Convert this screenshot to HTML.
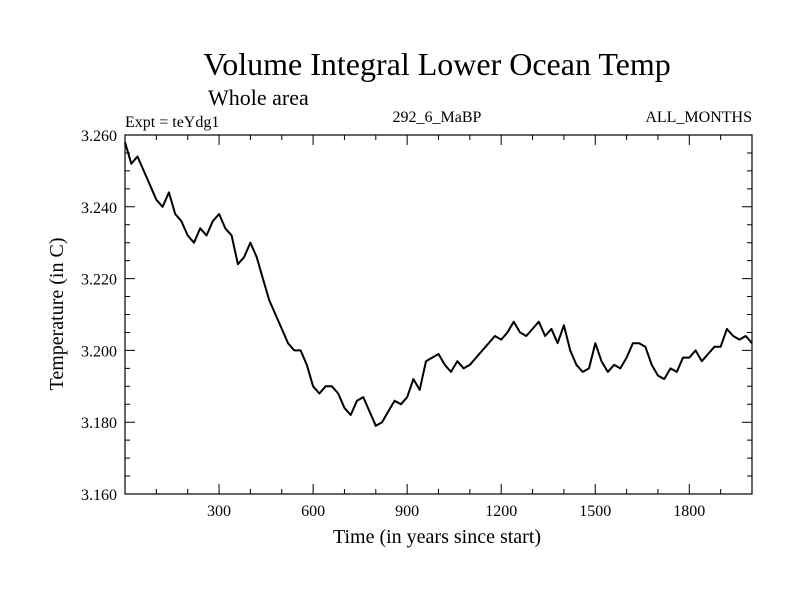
<!DOCTYPE html>
<html><head><meta charset="utf-8"><style>
body{margin:0;background:#fff}
svg{display:block;font-family:"Liberation Serif",serif}
</style></head><body>
<svg id="chart" width="800" height="600" xmlns="http://www.w3.org/2000/svg">
<text x="437" y="75" font-size="32" text-anchor="middle">Volume Integral Lower Ocean Temp</text>
<text x="208" y="105" font-size="22">Whole area</text>
<text x="125" y="127" font-size="16">Expt = teYdg1</text>
<text x="437" y="122" font-size="16" text-anchor="middle">292_6_MaBP</text>
<text x="752" y="122" font-size="16" text-anchor="end">ALL_MONTHS</text>
<text x="437" y="543" font-size="20" text-anchor="middle">Time (in years since start)</text>
<text transform="translate(63,314) rotate(-90)" font-size="20" text-anchor="middle">Temperature (in C)</text>
<g id="axes"></g>
<g id="series"></g>
</svg>
<script>
const years=[0,20,40,60,80,100,120,140,160,180,200,220,240,260,280,300,320,340,360,380,400,420,440,460,480,500,520,540,560,580,600,620,640,660,680,700,720,740,760,780,800,820,840,860,880,900,920,940,960,980,1000,1020,1040,1060,1080,1100,1120,1140,1160,1180,1200,1220,1240,1260,1280,1300,1320,1340,1360,1380,1400,1420,1440,1460,1480,1500,1520,1540,1560,1580,1600,1620,1640,1660,1680,1700,1720,1740,1760,1780,1800,1820,1840,1860,1880,1900,1920,1940,1960,1980,2000];
const temps=[3.258,3.252,3.254,3.250,3.246,3.242,3.240,3.244,3.238,3.236,3.232,3.230,3.234,3.232,3.236,3.238,3.234,3.232,3.224,3.226,3.230,3.226,3.220,3.214,3.210,3.206,3.202,3.200,3.200,3.196,3.190,3.188,3.190,3.190,3.188,3.184,3.182,3.186,3.187,3.183,3.179,3.180,3.183,3.186,3.185,3.187,3.192,3.189,3.197,3.198,3.199,3.196,3.194,3.197,3.195,3.196,3.198,3.200,3.202,3.204,3.203,3.205,3.208,3.205,3.204,3.206,3.208,3.204,3.206,3.202,3.207,3.200,3.196,3.194,3.195,3.202,3.197,3.194,3.196,3.195,3.198,3.202,3.202,3.201,3.196,3.193,3.192,3.195,3.194,3.198,3.198,3.200,3.197,3.199,3.201,3.201,3.206,3.204,3.203,3.204,3.202];
const xTicks=[300,600,900,1200,1500,1800];
const yTicks=[3.160,3.180,3.200,3.220,3.240,3.260];
const L=125,R=752,T=135,B=494,x0=0,x1=2000,y0=3.16,y1=3.26;
const sx=v=>L+(v-x0)/(x1-x0)*(R-L);
const sy=v=>B-(v-y0)/(y1-y0)*(B-T);
const NS="http://www.w3.org/2000/svg";
const ax=document.getElementById('axes'),se=document.getElementById('series');
function mk(tag,at,parent){const e=document.createElementNS(NS,tag);for(const k in at)e.setAttribute(k,at[k]);parent.appendChild(e);return e;}
const frame=mk('rect',{x:L,y:T,width:R-L,height:B-T,fill:'none',stroke:'#000','stroke-width':1.2},ax);


let d='';
for(let v=100;v<2000;v+=100){const X=sx(v),len=(v%300===0)?10:5;d+=`M${X},${B}v${-len}M${X},${T}v${len}`;}
for(let i=1;i<20;i++){const v=y0+i*0.005,Y=sy(v),len=(i%4===0)?10:5;d+=`M${L},${Y}h${len}M${R},${Y}h${-len}`;}
const tk=mk('path',{d:d,stroke:'#000','stroke-width':1,fill:'none'},ax);


xTicks.forEach(v=>{const t=mk('text',{x:sx(v),y:B+22,'font-size':16,'text-anchor':'middle'},ax);t.textContent=v;

});
yTicks.forEach(v=>{const t=mk('text',{x:117,y:sy(v)+6,'font-size':16,'text-anchor':'end'},ax);t.textContent=v.toFixed(3);

});
const pts=years.map((y,i)=>sx(y).toFixed(1)+','+sy(temps[i]).toFixed(1)).join(' ');
const line=mk('polyline',{points:pts,fill:'none',stroke:'#000','stroke-width':2,'stroke-linejoin':'round'},se);


</script>
</body></html>
